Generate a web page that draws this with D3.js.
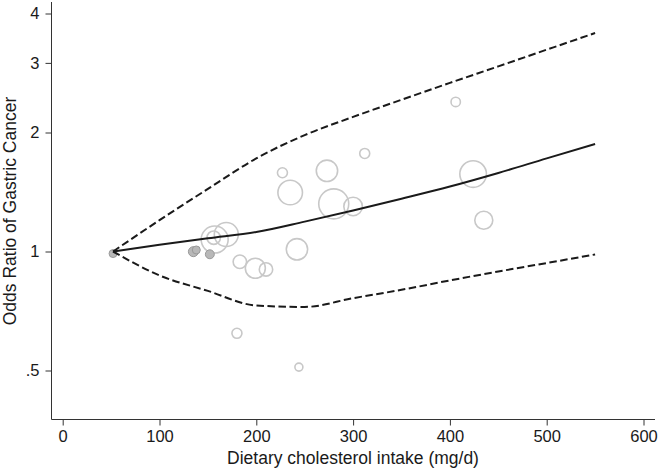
<!DOCTYPE html>
<meta charset="utf-8">
<html>
<head>
    <script src="https://d3js.org/d3.v7.min.js"></script>
</head>
<style>
    body { margin: 0; background: white; }
    text { font-family: "Liberation Sans", Arial, sans-serif; fill: #1a1a1a; }
</style>
<body>
<div id="chartdiv"></div>
<script>

// axis ticks
const xTicks = [0, 100, 200, 300, 400, 500, 600];
const yTicks = [0.5, 1, 2, 3, 4];
const yTickLabels = [".5", "1", "2", "3", "4"];

// dose-response curve (odds ratio) with 95% CI
const doseX   = [52, 100, 150, 200, 250, 300, 350, 400, 450, 500, 550];
const orFit   = [1.00, 1.04, 1.08, 1.12, 1.19, 1.27, 1.36, 1.46, 1.58, 1.72, 1.87];
const orLower = [1.00, 0.87, 0.795, 0.73, 0.724, 0.762, 0.80, 0.845, 0.89, 0.935, 0.983];
const orUpper = [1.00, 1.20, 1.44, 1.72, 1.97, 2.19, 2.42, 2.67, 2.94, 3.24, 3.57];

// study estimates (bubbles), weight ~ bubble area
const studyX      = [157, 169, 156, 242, 183, 199, 210, 227, 235, 273, 280, 300, 312, 180, 244, 406, 424, 435];
const studyOR     = [1.072, 1.104, 1.084, 1.013, 0.942, 0.907, 0.901, 1.582, 1.41, 1.60, 1.32, 1.30, 1.77, 0.621, 0.51, 2.39, 1.57, 1.20];
const studyWeight = [182, 144, 45, 114, 45, 100, 45, 25, 151, 114, 225, 86, 25, 25, 16, 22, 177, 81];

// reference-category points (filled)
const refX      = [52, 135, 138, 152];
const refOR     = [0.988, 0.999, 1.009, 0.984];
const refWeight = [16, 25, 16, 20];

// chart layout
const width = 661, height = 470;
const axisLeftX = 51.5, axisBottomY = 419.5;

const svg = d3.select("#chartdiv")
    .append("svg")
    .attr("width", width)
    .attr("height", height);

// scales
var xScale = d3.scaleLinear()
    .domain([0, 600])
    .range([62.7, 643.5]);

var yScale = d3.scaleLog()
    .domain([0.5, 4])
    .range([370.5, 13.5]);

var rScale = d3.scaleSqrt()
    .domain([0, 225])
    .range([0, 15]);

// bubbles first so the lines sit on top
svg.append("g")
    .selectAll("circle")
    .data(studyX)
    .enter()
    .append("circle")
    .attr("cx", (d, i) => xScale(d))
    .attr("cy", (d, i) => yScale(studyOR[i]))
    .attr("r", (d, i) => rScale(studyWeight[i]))
    .attr("fill", "none")
    .attr("stroke", "#c8c8c8")
    .attr("stroke-width", 1.6);

svg.append("g")
    .selectAll("circle")
    .data(refX)
    .enter()
    .append("circle")
    .attr("cx", (d, i) => xScale(d))
    .attr("cy", (d, i) => yScale(refOR[i]))
    .attr("r", (d, i) => rScale(refWeight[i]))
    .attr("fill", "#b8b8b8")
    .attr("stroke", "#9a9a9a")
    .attr("stroke-width", 1);

// lines
var line = function(ys) {
    return d3.line()
        .x((d, i) => xScale(d))
        .y((d, i) => yScale(ys[i]))
        .curve(d3.curveMonotoneX)(doseX);
}

svg.append("path")
    .attr("d", line(orUpper))
    .attr("fill", "none")
    .attr("stroke", "#1a1a1a")
    .attr("stroke-width", 2)
    .attr("stroke-dasharray", "7.5,3.5");

svg.append("path")
    .attr("d", line(orLower))
    .attr("fill", "none")
    .attr("stroke", "#1a1a1a")
    .attr("stroke-width", 2)
    .attr("stroke-dasharray", "7.5,3.5");

svg.append("path")
    .attr("d", line(orFit))
    .attr("fill", "none")
    .attr("stroke", "#1a1a1a")
    .attr("stroke-width", 2);

// x axis
var axisX = svg.append("g")
    .attr("transform", "translate(0," + axisBottomY + ")")
    .call(d3.axisBottom(xScale)
        .tickValues(xTicks)
        .tickSize(6)
        .tickPadding(5)
        .tickFormat(d3.format("d")));
axisX.select(".domain").remove();
axisX.selectAll("line").attr("stroke", "#333");
axisX.selectAll("text").style("font-size", "16.5px").attr("fill", "#1a1a1a");
axisX.append("line")
    .attr("x1", axisLeftX).attr("x2", 655)
    .attr("stroke", "#333");

// y axis
var axisY = svg.append("g")
    .attr("transform", "translate(" + axisLeftX + ",0)")
    .call(d3.axisLeft(yScale)
        .tickValues(yTicks)
        .tickSize(6)
        .tickPadding(6)
        .tickFormat((d, i) => yTickLabels[i]));
axisY.select(".domain").remove();
axisY.selectAll("line").attr("stroke", "#333");
axisY.selectAll("text").style("font-size", "16.5px").attr("fill", "#1a1a1a");
axisY.append("line")
    .attr("y1", 2).attr("y2", axisBottomY)
    .attr("stroke", "#333");

// axis titles
svg.append("text")
    .attr("x", 353)
    .attr("y", 464)
    .attr("text-anchor", "middle")
    .style("font-size", "17.5px")
    .text("Dietary cholesterol intake (mg/d)");

svg.append("text")
    .attr("transform", "translate(16,211) rotate(-90)")
    .attr("text-anchor", "middle")
    .style("font-size", "17.5px")
    .text("Odds Ratio of Gastric Cancer");

</script>
</body>
</html>
